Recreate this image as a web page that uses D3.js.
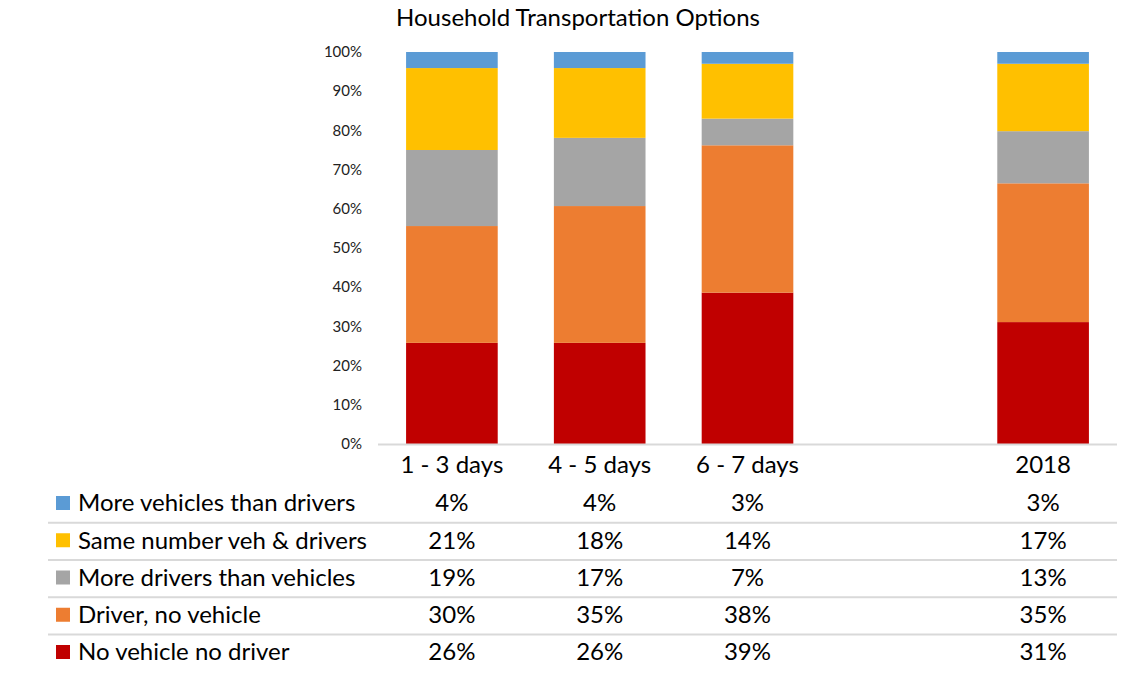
<!DOCTYPE html>
<html>
<head>
<meta charset="utf-8">
<script src="https://cdn.jsdelivr.net/npm/d3@7"></script>
<style>
  body { margin: 0; background: #fff; }
  svg { display: block; }
  text { font-family: Lato, "Open Sans", sans-serif; fill: #000; }
</style>
</head>
<body>
<svg id="chart" width="1135" height="675"></svg>
<script>
// ---- data ----
const categories = ["1 - 3 days", "4 - 5 days", "6 - 7 days", "", "2018"];
const seriesNames = ["No vehicle no driver", "Driver, no vehicle", "More drivers than vehicles", "Same number veh & drivers", "More vehicles than drivers"];
const seriesColors = ["#C00000", "#ED7D31", "#A5A5A5", "#FFC000", "#5B9BD5"];
const noVehicleNoDriver   = [25.8, 25.8, 38.6, null, 31.1];
const driverNoVehicle     = [29.8, 34.9, 37.6, null, 35.4];
const moreDriversThanVeh  = [19.4, 17.4, 6.8,  null, 13.3];
const sameNumber          = [20.9, 17.8, 14.0, null, 17.2];
const moreVehThanDrivers  = [4.1,  4.1,  3.0,  null, 3.0];
const yTicks = [0, 10, 20, 30, 40, 50, 60, 70, 80, 90, 100];
const title = "Household Transportation Options";

const seriesValues = [noVehicleNoDriver, driverNoVehicle, moreDriversThanVeh, sameNumber, moreVehThanDrivers];

// ---- layout ----
const svg = d3.select("#chart");
const x = d3.scaleBand().domain(categories.map((c, i) => i)).range([378, 1117]).paddingInner(0.38).paddingOuter(0.19);
const y = d3.scaleLinear().domain([0, 100]).range([444, 52]);

// title
svg.append("text").attr("x", 578).attr("y", 18).attr("dy", "0.35em").attr("text-anchor", "middle")
  .style("font-size", "24px").text(title);

// y axis labels
svg.append("g").selectAll("text").data(yTicks).join("text")
  .attr("x", 362).attr("y", d => y(d)).attr("dy", "0.35em").attr("text-anchor", "end")
  .style("font-size", "15px").style("fill", "#222").text(d => d + "%");

// stacked bars
const rows = categories.map((c, i) => {
  const o = { idx: i };
  seriesNames.forEach((s, k) => o[s] = seriesValues[k][i] || 0);
  return o;
});
const stack = d3.stack().keys(seriesNames)(rows);
svg.append("g").selectAll("g").data(stack).join("g")
  .attr("fill", (d, k) => seriesColors[k])
  .selectAll("rect").data(d => d.filter(p => p[1] > p[0])).join("rect")
  .attr("x", d => x(d.data.idx)).attr("width", x.bandwidth())
  .attr("y", d => y(d[1])).attr("height", d => y(d[0]) - y(d[1]));

// baseline
svg.append("line").attr("x1", 378).attr("x2", 1117).attr("y1", y(0) + 0.5).attr("y2", y(0) + 0.5)
  .attr("stroke", "#d9d9d9").attr("stroke-width", 2);

// category labels
svg.append("g").selectAll("text").data(categories.map((c, i) => ({ c, i }))).join("text")
  .attr("x", d => x(d.i) + x.bandwidth() / 2).attr("y", 465).attr("dy", "0.35em")
  .attr("text-anchor", "middle").style("font-size", "24px").text(d => d.c);

// data table
const rowY = d3.scaleLinear().domain([0, 4]).range([503, 652]);
const tableOrder = [4, 3, 2, 1, 0];
const tg = svg.append("g");
tableOrder.forEach((k, r) => {
  const cy = rowY(r);
  tg.append("rect").attr("x", 56).attr("y", cy - 7).attr("width", 14).attr("height", 14).attr("fill", seriesColors[k]);
  tg.append("text").attr("x", 78).attr("y", cy).attr("dy", "0.35em").style("font-size", "24px").text(seriesNames[k]);
  categories.forEach((c, i) => {
    const v = seriesValues[k][i];
    if (v == null) return;
    tg.append("text").attr("x", x(i) + x.bandwidth() / 2).attr("y", cy).attr("dy", "0.35em")
      .attr("text-anchor", "middle").style("font-size", "24px").text(Math.round(v) + "%");
  });
  if (r < 4) {
    const ly = (rowY(r) + rowY(r + 1)) / 2 + 1;
    tg.append("line").attr("x1", 48).attr("x2", 1117).attr("y1", ly).attr("y2", ly)
      .attr("stroke", "#d9d9d9").attr("stroke-width", 2);
  }
});
</script>
</body>
</html>
